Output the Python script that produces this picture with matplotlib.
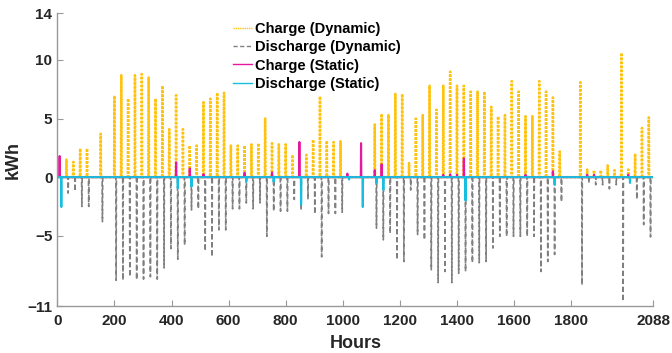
import numpy as np
import matplotlib
matplotlib.use('Agg')
import matplotlib.pyplot as plt

plt.rcParams['font.family'] = ['Liberation Sans', 'DejaVu Sans']
plt.rcParams['font.weight'] = 'bold'

n_hours = 2088
hours = np.arange(n_hours + 1)

# daily peak energy (kWh), one entry per day 0..86
charge_dyn = [0, 1.5, 1.3, 2.45, 2.45, 0, 3.7, 0, 6.95, 8.7,
              6.7, 8.7, 8.8, 8.5, 6.7, 7.8, 4.1, 7.0, 4.1, 2.7,
              2.7, 6.4, 6.7, 7.2, 7.2, 2.7, 2.7, 2.7, 2.8, 2.9,
              5.0, 2.9, 2.8, 2.8, 1.9, 0, 1.9, 3.2, 6.9, 3.1,
              3.0, 3.06, 0, 0, 0, 0, 4.5, 5.4, 5.3, 7.1,
              7.1, 1.2, 5.0, 5.3, 7.8, 5.75, 7.8, 9.0, 7.8, 7.8,
              7.3, 7.3, 7.3, 6.0, 5.2, 5.3, 8.2, 7.3, 5.2, 5.2,
              8.2, 7.3, 6.8, 2.2, 0, 0, 8.1, 0.65, 0.6, 0.6,
              1.0, 0.6, 10.6, 0.65, 2.0, 4.2, 5.1]
discharge_dyn = [0, -1.36, -1.2, -2.5, -2.5, 0, -3.8, 0, -8.8, -8.8,
                 -8.5, -8.75, -8.7, -8.5, -8.7, -7.75, -6.1, -7.0, -5.8, -2.8,
                 -2.7, -6.3, -6.8, -4.5, -4.5, -2.7, -2.7, -2.2, -2.7, -2.2,
                 -5.05, -2.9, -2.9, -2.9, -1.9, -2.8, -1.9, -3.15, -6.8, -3.1,
                 -3.1, -3.0, 0, 0, 0, 0, -4.35, -5.35, -4.8, -7.05,
                 -7.2, -1.1, -4.9, -5.35, -7.9, -9.0, -8.05, -9.0, -8.2, -8.05,
                 -7.3, -7.3, -7.2, -6.05, -5.05, -5.05, -5.05, -5.05, -5.05, -5.05,
                 -8.05, -7.2, -6.6, -2.1, 0, 0, -9.2, -0.5, -0.65, -0.65,
                 -1.0, -0.65, -10.6, 0, -1.9, -4.05, -5.1]

static_charge_days = [0, 17, 19, 21, 27, 31, 35, 42, 44, 46, 47, 56, 57, 58, 59, 68, 72, 77, 78, 83]
static_charge_kwh = [1.8, 1.27, 0.74, 0.25, 0.37, 0.4, 3.0, 0.3, 2.9, 0.6, 1.1,
                     0.2, 0.25, 0.2, 1.6, 0.2, 0.5, 0.2, 0.2, 0.2]
static_discharge_days = [0, 17, 19, 27, 31, 35, 42, 44, 46, 47, 59, 72, 83]
static_discharge_kwh = [-2.55, -0.95, -0.8, -0.4, -0.4, -2.35, -0.2, -2.55, -0.5, -1.1, -2.0, -0.65, -0.5]

x_ticks = [0, 200, 400, 600, 800, 1000, 1200, 1400, 1600, 1800, 2088]
y_ticks = [-11, -5, 0, 5, 10, 14]


def hourly(days, vals, offset):
    s = np.zeros(n_hours + 1)
    s[np.asarray(days) * 24 + offset] = vals
    return s


all_days = np.arange(len(charge_dyn))

fig = plt.figure(figsize=(6.72, 3.53), dpi=100)
ax = fig.add_axes([0.0853, 0.133, 0.887, 0.830])

ax.plot(hours, hourly(all_days, charge_dyn, 8), color='#FFC20E', lw=1.8,
        dashes=(1.0, 0.6), label='Charge (Dynamic)')
ax.plot(hours, hourly(all_days, discharge_dyn, 14), color='#808080', lw=1.2,
        dashes=(3.0, 1.8), label='Discharge (Dynamic)')
ax.plot(hours, hourly(static_charge_days, static_charge_kwh, 8), '-', color='#E6199E', lw=1.5,
        label='Charge (Static)')
ax.plot(hours, hourly(static_discharge_days, static_discharge_kwh, 14), '-', color='#17BEDF', lw=1.5,
        label='Discharge (Static)')

ax.set_xlim(0, n_hours)
ax.set_ylim(-11, 14)
ax.set_xticks(x_ticks)
ax.set_yticks(y_ticks)
ax.tick_params(direction='in', length=4, color='#999999', labelsize=11, labelcolor='#262626')
ax.tick_params(axis='x', pad=6)
for side in ['top', 'right']:
    ax.spines[side].set_visible(False)
for side in ['left', 'bottom']:
    ax.spines[side].set_color('#999999')
    ax.spines[side].set_linewidth(1.0)

ax.set_xlabel('Hours', fontsize=13, fontweight='bold', color='#262626', labelpad=5)
ax.set_ylabel('kWh', fontsize=13, fontweight='bold', color='#262626', labelpad=4)

leg = ax.legend(loc='upper left', bbox_to_anchor=(0.285, 0.99), frameon=False,
                handlelength=1.3, handletextpad=0.2, labelspacing=0.3, fontsize=10.5,
                borderaxespad=0)
for line in leg.get_lines():
    line.set_linewidth(1.0)

plt.savefig('out.png', dpi=100)
